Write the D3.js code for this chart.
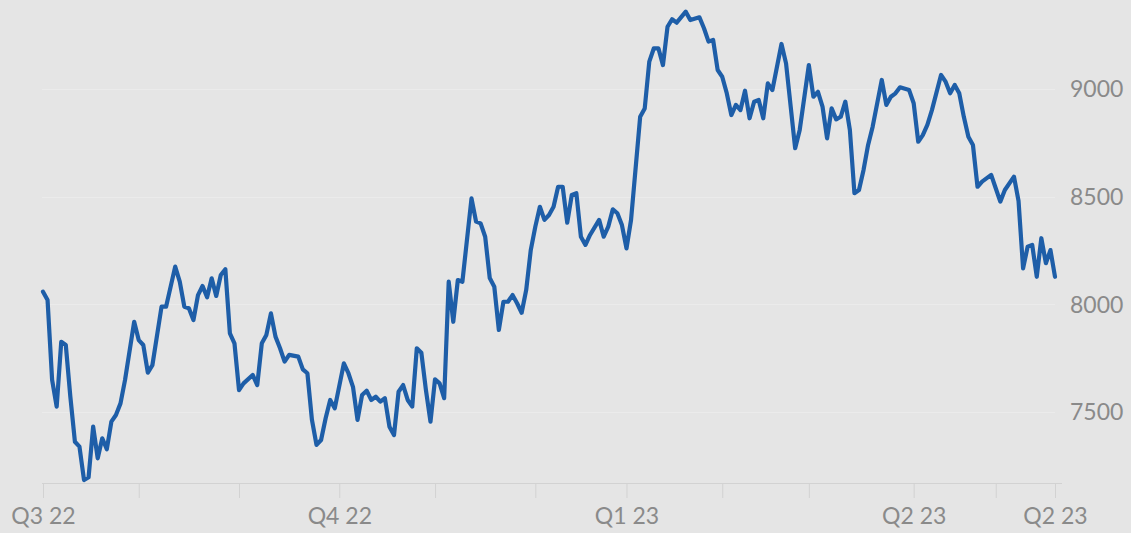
<!DOCTYPE html>
<html>
<head>
<meta charset="utf-8">
<script src="https://cdn.jsdelivr.net/npm/d3@7"></script>
<style>
  html, body { margin: 0; padding: 0; background: #e5e5e5; }
  svg { display: block; }
  .tick-label { font-family: Lato, "Open Sans", sans-serif; font-size: 23px; fill: #8a8a8a; }
</style>
</head>
<body>
<svg id="chart" width="1131" height="533"></svg>
<script>
// Trading-day index since the start of Q3 2022 and the closing level on that day
const tradingDay = [
  0, 1, 2, 3, 4, 5, 6, 7, 8, 9, 10, 11, 12, 13, 14, 15, 16, 17, 18, 20,
  21, 22, 23, 24, 26, 27, 29, 30, 31, 32, 33, 34, 35, 36, 37, 38, 39, 40, 41, 42,
  43, 44, 46, 47, 48, 49, 50, 51, 52, 53, 54, 56, 57, 58, 59, 60, 61, 62, 63, 64,
  66, 67, 68, 69, 70, 71, 72, 73, 74, 75, 76, 77, 78, 79, 80, 81, 82, 83, 84, 85,
  86, 87, 88, 89, 90, 91, 92, 94, 95, 96, 97, 98, 99, 100, 101, 102, 103, 104, 105, 106,
  107, 108, 109, 110, 111, 112, 113, 114, 115, 116, 117, 118, 119, 120, 122, 123, 124, 125, 126, 127,
  128, 129, 131, 132, 133, 134, 135, 136, 137, 138, 139, 141, 142, 144, 145, 146, 147, 148, 149, 150,
  151, 152, 153, 154, 155, 156, 157, 158, 159, 160, 162, 163, 165, 166, 168, 169, 170, 171, 172, 173,
  174, 175, 176, 177, 178, 179, 180, 181, 182, 184, 185, 186, 187, 188, 190, 191, 192, 193, 194, 195,
  197, 198, 199, 200, 201, 202, 203, 204, 205, 206, 208, 209, 210, 211, 213, 214, 215, 216, 217, 218,
  219, 220, 221, 222
];
const closeValue = [
  8059, 8020, 7649, 7525, 7826, 7811, 7571, 7362, 7339, 7184, 7197, 7432, 7285, 7378, 7327, 7455, 7486, 7540, 7649, 7919,
  7834, 7811, 7683, 7718, 7989, 7989, 8175, 8105, 7989, 7982, 7927, 8043, 8085, 8033, 8121, 8039, 8136, 8163, 7865, 7819,
  7602, 7633, 7672, 7625, 7819, 7858, 7958, 7850, 7796, 7734, 7765, 7757, 7698, 7680, 7463, 7347, 7370, 7471, 7556, 7517,
  7726, 7680, 7617, 7463, 7579, 7599, 7556, 7571, 7548, 7564, 7432, 7393, 7594, 7625, 7556, 7525, 7796, 7775, 7602, 7455,
  7652, 7633, 7564, 8105, 7919, 8113, 8105, 8492, 8384, 8376, 8314, 8122, 8082, 7881, 8012, 8012, 8043, 8005, 7961, 8067,
  8252, 8361, 8453, 8392, 8415, 8453, 8546, 8546, 8379, 8508, 8516, 8314, 8276, 8322, 8392, 8314, 8361, 8441, 8423, 8368,
  8260, 8392, 8871, 8910, 9127, 9189, 9189, 9111, 9289, 9324, 9308, 9359, 9320, 9333, 9282, 9220, 9228, 9088, 9057, 8980,
  8879, 8926, 8902, 8992, 8864, 8941, 8949, 8864, 9026, 8995, 9209, 9119, 8725, 8810, 9111, 8964, 8987, 8918, 8771, 8910,
  8859, 8871, 8941, 8810, 8516, 8531, 8624, 8740, 8825, 9042, 8926, 8964, 8980, 9008, 8995, 8934, 8755, 8786, 8833, 8902,
  9065, 9034, 8980, 9019, 8980, 8871, 8778, 8740, 8546, 8570, 8601, 8539, 8477, 8531, 8593, 8480, 8167, 8268, 8276, 8128,
  8307, 8191, 8252, 8128
];

// Month ticks on the trading-day axis; quarter starts carry a label
const xTickDays   = [0, 21, 43, 65, 86, 108, 128, 149, 168, 191, 209, 222];
const xTickLabels = ["Q3 22", "", "", "Q4 22", "", "", "Q1 23", "", "", "Q2 23", "", "Q2 23"];

const yTickValues = [7500, 8000, 8500, 9000];

const svg = d3.select("#chart");

const x = d3.scaleLinear().domain([0, 222]).range([43, 1055]);
const y = d3.scaleLinear().domain([7500, 9000]).range([412, 89]);
const axisY = 483;

// horizontal gridlines
svg.append("g")
  .selectAll("line")
  .data(yTickValues)
  .join("line")
  .attr("x1", 42).attr("x2", 1055)
  .attr("y1", d => Math.round(y(d)) + 0.5)
  .attr("y2", d => Math.round(y(d)) + 0.5)
  .attr("stroke", "#ebebeb")
  .attr("stroke-width", 1);

// right-hand value labels
svg.append("g")
  .selectAll("text")
  .data(yTickValues)
  .join("text")
  .attr("class", "tick-label")
  .attr("x", 1070)
  .attr("y", d => y(d))
  .attr("dy", "0.36em")
  .text(d => d);

// bottom axis
const xAxis = d3.axisBottom(x)
  .tickValues(xTickDays)
  .tickSize(15)
  .tickPadding(10)
  .tickFormat((d, i) => xTickLabels[i]);

const gx = svg.append("g")
  .attr("transform", `translate(0,${axisY})`)
  .call(xAxis);
gx.select(".domain")
  .attr("d", `M42,0.5H1062`)
  .attr("stroke", "#d2d2d2");
gx.selectAll(".tick line").attr("stroke", "#d2d2d2");
gx.selectAll(".tick text")
  .attr("class", "tick-label")
  .attr("fill", null)
  .attr("font-family", null)
  .attr("font-size", null);

// price line
const points = tradingDay.map((d, i) => [d, closeValue[i]]);
const line = d3.line()
  .x(d => x(d[0]))
  .y(d => y(d[1]));

svg.append("path")
  .datum(points)
  .attr("fill", "none")
  .attr("stroke", "#1e5ea8")
  .attr("stroke-width", 4.2)
  .attr("stroke-linejoin", "round")
  .attr("stroke-linecap", "round")
  .attr("d", line);
</script>
</body>
</html>
